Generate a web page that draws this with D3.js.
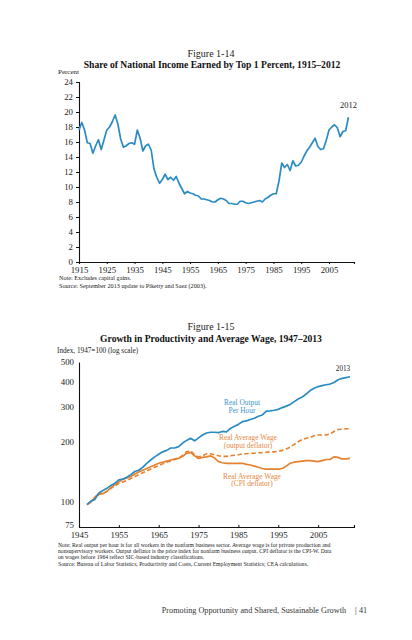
<!DOCTYPE html>
<html>
<head>
<meta charset="utf-8">
<script src="https://cdn.jsdelivr.net/npm/d3@7/dist/d3.min.js"></script>
<style>
  html, body { margin: 0; padding: 0; background: #fff; }
  svg { display: block; font-family: "Liberation Serif", "Times New Roman", serif; }
</style>
</head>
<body>
<svg id="chart" width="412" height="640"></svg>
<script>
// ---------- Figure 1-14 data ----------
const top1Years = d3.range(1915, 2013);
const top1Share = [
  17.6, 18.6, 17.6, 15.9, 15.8, 14.5, 15.5, 16.3, 15.0, 16.3,
  17.6, 18.0, 18.7, 19.6, 18.4, 16.4, 15.3, 15.5, 15.8, 15.9,
  15.7, 17.6, 16.5, 14.8, 15.5, 15.7, 14.9, 12.4, 11.3, 10.5,
  11.0, 11.7, 11.0, 11.3, 10.9, 11.4, 10.5, 9.8, 9.1, 9.4,
  9.2, 9.1, 8.9, 8.8, 8.4, 8.4, 8.3, 8.2, 8.0, 8.0,
  8.3, 8.5, 8.4, 8.2, 7.8, 7.8, 7.7, 7.7, 8.1, 8.1,
  7.9, 7.8, 7.9, 8.0, 8.1, 8.2, 8.0, 8.4, 8.6, 8.9,
  9.1, 9.1, 10.8, 13.2, 12.6, 13.0, 12.2, 13.5, 12.8, 12.9,
  13.3, 14.1, 14.8, 15.3, 15.9, 16.5, 15.4, 15.0, 15.1, 16.2,
  17.6, 18.0, 18.3, 17.9, 16.7, 17.4, 17.5, 19.3
];
const fig1XTicks = [1915, 1925, 1935, 1945, 1955, 1965, 1975, 1985, 1995, 2005];
const fig1YTicks = [0, 2, 4, 6, 8, 10, 12, 14, 16, 18, 20, 22, 24];

// ---------- Figure 1-15 data ----------
const prodYears = d3.range(1947, 2014);
const outputPerHour = [
  97, 101, 103, 111, 114, 117, 121, 124, 129, 130,
  133, 137, 142, 144, 149, 156, 162, 168, 173, 178,
  181, 186, 186, 189, 197, 203, 208, 202, 209, 216,
  221, 223, 223, 222, 225, 224, 233, 239, 244, 252,
  254, 258, 262, 268, 272, 284, 285, 287, 290, 296,
  301, 307, 317, 327, 334, 346, 360, 370, 377, 381,
  385, 388, 395, 408, 414, 418, 422
];
const wageOutputDeflator = [
  97, 100, 105, 109, 110, 113, 117, 120, 124, 126,
  128, 131, 134, 137, 140, 143, 146, 149, 152, 155,
  158, 160, 163, 166, 171, 178, 180, 172, 168, 170,
  174, 174, 172, 170, 169, 169, 170, 171, 172, 174,
  174, 175, 175, 176, 176, 177, 178, 178, 179, 181,
  184, 188, 194, 200, 205, 208, 210, 214, 216, 216,
  216, 219, 225, 230, 231, 232, 232
];
const wageCPIDeflator = [
  97, 100, 106, 110, 110, 113, 118, 122, 126, 130,
  132, 134, 138, 141, 144, 147, 150, 153, 156, 158,
  160, 162, 164, 165, 169, 175, 177, 170, 165, 167,
  168, 170, 166, 159, 157, 156, 156, 156, 156, 156,
  154, 153, 151, 149, 147, 146, 146, 146, 146, 147,
  151, 156, 158, 159, 160, 161, 161, 160, 159, 161,
  163, 163, 168, 167, 164, 164, 165
];
const fig2XTicks = [1945, 1955, 1965, 1975, 1985, 1995, 2005];
const fig2YTicks = [75, 100, 200, 300, 400, 500];

const blue = "#2b8bc3";
const orange = "#e5812f";
const svg = d3.select("#chart");
const font = "Liberation Serif, Times New Roman, serif";

function text(x, y, str, opts = {}) {
  return svg.append("text")
    .attr("x", x).attr("y", y)
    .attr("text-anchor", opts.anchor || "start")
    .attr("font-size", opts.size || 9)
    .attr("font-weight", opts.weight || "normal")
    .attr("fill", opts.fill || "#222")
    .text(str);
}

// ================= Figure 1-14 =================
const x1 = d3.scaleLinear().domain([1915, 2014]).range([79, 354]);
const y1 = d3.scaleLinear().domain([0, 24]).range([262, 82]);

text(211, 56.5, "Figure 1-14", { anchor: "middle", size: 10 });
text(212, 67.5, "Share of National Income Earned by Top 1 Percent, 1915\u20132012", { anchor: "middle", size: 9.6, weight: "bold", fill: "#111" });
text(58, 74, "Percent", { size: 7 });

const g1 = svg.append("g");
const yAx1 = g1.append("g").attr("transform", "translate(79,0)")
  .call(d3.axisLeft(y1).tickValues(fig1YTicks).tickSize(3).tickPadding(3).tickFormat(d3.format("d")));
const xAx1 = g1.append("g").attr("transform", "translate(0,262)")
  .call(d3.axisBottom(x1).tickValues(fig1XTicks).tickSize(2).tickPadding(3).tickFormat(d3.format("d")));
[yAx1, xAx1].forEach(a => {
  a.select(".domain").attr("stroke", "#111").attr("stroke-width", 1.1);
  a.selectAll(".tick line").attr("stroke", "#111");
  a.selectAll("text").attr("font-family", font).attr("font-size", 8.8).attr("fill", "#222");
});

const line1 = d3.line().x((d, i) => x1(top1Years[i])).y(d => y1(d));
g1.append("path").datum(top1Share)
  .attr("d", line1).attr("fill", "none").attr("stroke", blue)
  .attr("stroke-width", 1.7).attr("stroke-linejoin", "round");

text(x1(2012), 108, "2012", { anchor: "middle", size: 8.5 });

text(59, 280, "Note: Excludes capital gains.", { size: 6.2 });
text(59, 288, "Source: September 2013 update to Piketty and Saez (2003).", { size: 6.2 });

// ================= Figure 1-15 =================
const x2 = d3.scaleLinear().domain([1945, 2014]).range([79, 354]);
const y2 = d3.scaleLog().domain([75, 500]).range([527, 362]);

text(211, 330, "Figure 1-15", { anchor: "middle", size: 10 });
text(211, 341.5, "Growth in Productivity and Average Wage, 1947\u20132013", { anchor: "middle", size: 9.6, weight: "bold", fill: "#111" });
text(57, 353, "Index, 1947=100 (log scale)", { size: 7.2 });

const g2 = svg.append("g");
const yAx2 = g2.append("g").attr("transform", "translate(79,0)")
  .call(d3.axisLeft(y2).tickValues(fig2YTicks).tickSize(0).tickPadding(5).tickFormat(d3.format("d")));
const xAx2 = g2.append("g").attr("transform", "translate(0,527)")
  .call(d3.axisBottom(x2).tickValues(fig2XTicks).tickSize(-2).tickPadding(5).tickFormat(d3.format("d")));
[yAx2, xAx2].forEach(a => {
  a.select(".domain").attr("stroke", "#111").attr("stroke-width", 1.1);
  a.selectAll(".tick line").attr("stroke", "#111");
  a.selectAll("text").attr("font-family", font).attr("font-size", 8.8).attr("fill", "#222");
});
yAx2.selectAll(".tick").filter(d => d === 75).select("text").attr("dy", "0.1em");

const line2 = arr => d3.line().x((d, i) => x2(prodYears[i])).y(d => y2(d))(arr);
g2.append("path").attr("d", line2(wageOutputDeflator))
  .attr("fill", "none").attr("stroke", orange).attr("stroke-width", 1.6)
  .attr("stroke-dasharray", "4.5,2.5");
g2.append("path").attr("d", line2(wageCPIDeflator))
  .attr("fill", "none").attr("stroke", orange).attr("stroke-width", 1.7).attr("stroke-linejoin", "round");
g2.append("path").attr("d", line2(outputPerHour))
  .attr("fill", "none").attr("stroke", blue).attr("stroke-width", 1.7).attr("stroke-linejoin", "round");

text(x2(2013) - 7, 371, "2013", { anchor: "middle", size: 7.2 });

text(242, 405, "Real Output", { anchor: "middle", size: 7.4, fill: "#3b97cf" });
text(242, 412.5, "Per Hour", { anchor: "middle", size: 7.4, fill: "#3b97cf" });
text(248, 439.5, "Real Average Wage", { anchor: "middle", size: 7.4, fill: "#e48a45" });
text(248, 447.5, "(output deflator)", { anchor: "middle", size: 7.4, fill: "#e48a45" });
text(252, 478.5, "Real Average Wage", { anchor: "middle", size: 7.4, fill: "#e48a45" });
text(252, 486, "(CPI deflator)", { anchor: "middle", size: 7.4, fill: "#e48a45" });

const noteLines = [
  "Note: Real output per hour is for all workers in the nonfarm business sector. Average wage is for private production and",
  "nonsupervisory workers. Output deflator is the price index for nonfarm business output. CPI deflator is the CPI-W. Data",
  "on wages before 1964 reflect SIC-based industry classifications.",
  "Source: Bureau of Labor Statistics, Productivity and Costs, Current Employment Statistics; CEA calculations."
];
noteLines.forEach((s, i) => text(58, 546.5 + i * 6.4, s, { size: 5.7 }));

// ---------- Footer ----------
text(346, 612.5, "Promoting Opportunity and Shared, Sustainable Growth", { anchor: "end", size: 8.2, fill: "#333" });
text(355.7, 612.5, "|", { anchor: "middle", size: 8.2, fill: "#333" });
text(359, 612.5, "41", { size: 8.2, fill: "#333" });
</script>
</body>
</html>
